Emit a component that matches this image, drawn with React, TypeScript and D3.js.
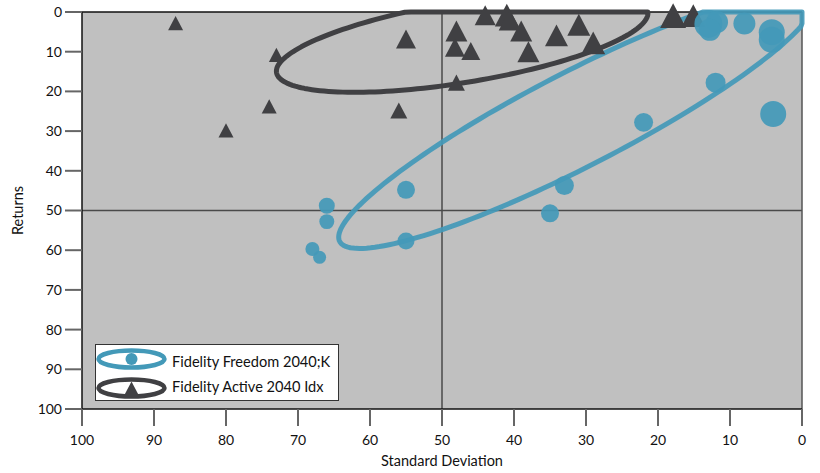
import React from "react";
import * as d3 from "d3";

// Fidelity Freedom 2040;K (circles)
const freedomSD = [66, 66, 68, 67, 55, 55, 33, 35, 22, 12, 4, 4.2, 4.2, 8, 13, 11.8, 12.8];
const freedomRet = [48.8, 52.8, 59.7, 61.8, 44.8, 57.7, 43.7, 50.7, 27.8, 17.8, 25.7, 5.1, 7.0, 2.9, 3, 2.5, 4.5];
const freedomSize = [64, 56, 49, 42, 81, 72, 90, 81, 90, 100, 169, 169, 169, 121, 196, 121, 121];

// Fidelity Active 2040 Idx (triangles)
const activeSD = [87, 80, 74, 73, 56, 55, 48, 48, 48.2, 46, 44, 41, 40.6, 39, 38, 34.1, 31, 29, 17.9, 15.1];
const activeRet = [2.8, 29.8, 23.8, 10.8, 24.8, 6.8, 17.8, 4.8, 8.9, 9.8, 0.8, 0.8, 2, 4.8, 10, 5.9, 3.2, 7.8, 0.9, 0.9];
const activeSize = [225, 225, 225, 225, 289, 400, 289, 484, 400, 361, 441, 576, 484, 484, 484, 529, 529, 576, 676, 576];

// Ellipses: center, first and second conjugate semi-axis vectors (data units)
const freedomEllipseCenter = [31.25, 27.0];
const freedomEllipseU = [-33.1, -29.7];
const freedomEllipseV = [0, 13.35];
const activeEllipseCenter = [47.2, 7.6];
const activeEllipseU = [-25.8, -7.3];
const activeEllipseV = [0, 10.3];

const xTicks = [100, 90, 80, 70, 60, 50, 40, 30, 20, 10, 0];
const yTicks = [0, 10, 20, 30, 40, 50, 60, 70, 80, 90, 100];
const refSD = 50;
const refRet = 50;

const seriesNames = ["Fidelity Freedom 2040;K", "Fidelity Active 2040 Idx"];
const xTitle = "Standard Deviation";
const yTitle = "Returns";

const TEAL = "#4399b8";
const DARK = "#404043";
const FONT = "Lato, 'Open Sans', sans-serif";

export default function App() {
  const W = 820, H = 473;
  const x = d3.scaleLinear().domain([100, 0]).range([82, 802]);
  const y = d3.scaleLinear().domain([0, 100]).range([12, 409]);
  const rCircle = d3.scaleSqrt().domain([0, 196]).range([0, 14]);
  const wTri = d3.scaleSqrt().domain([0, 576]).range([0, 24]);

  const ellipsePath = (c: number[], u: number[], v: number[]) => {
    const pts: [number, number][] = d3.range(0, 361, 2).map((deg) => {
      const t = (deg * Math.PI) / 180;
      const sd = Math.max(0, Math.min(100, c[0] + u[0] * Math.cos(t) + v[0] * Math.sin(t)));
      const rt = Math.max(0, Math.min(100, c[1] + u[1] * Math.cos(t) + v[1] * Math.sin(t)));
      return [x(sd), y(rt)];
    });
    return d3.line().curve(d3.curveLinearClosed)(pts) || "";
  };

  const tri = (cx: number, cy: number, w: number) => {
    const h = w * 0.95;
    return `M${cx},${cy - h / 2}L${cx + w / 2},${cy + h / 2}L${cx - w / 2},${cy + h / 2}Z`;
  };

  const [x0, x1] = x.range();
  const [y0, y1] = y.range();

  return (
    <svg width={W} height={H} style={{ position: "absolute", left: 0, top: 0 }} fontFamily={FONT}>
      <rect x={0} y={0} width={W} height={H} fill="#fff" />
      <rect x={x0} y={y0} width={x1 - x0} height={y1 - y0} fill="#c0c0c0" />
      {/* reference lines */}
      <line x1={x(refSD)} x2={x(refSD)} y1={y0} y2={y1} stroke="#4a4a4a" strokeWidth={1.5} />
      <line x1={x0} x2={x1} y1={y(refRet)} y2={y(refRet)} stroke="#4a4a4a" strokeWidth={1.5} />
      {/* frame */}
      <line x1={x0} x2={x1} y1={y0} y2={y0} stroke="#111" strokeWidth={1.5} />
      <line x1={x1} x2={x1} y1={y0} y2={y1} stroke="#555" strokeWidth={1.5} />
      {/* ellipses */}
      <path d={ellipsePath(activeEllipseCenter, activeEllipseU, activeEllipseV)} fill="none" stroke={DARK} strokeWidth={5} strokeLinejoin="round" />
      <path d={ellipsePath(freedomEllipseCenter, freedomEllipseU, freedomEllipseV)} fill="none" stroke={TEAL} strokeWidth={5} strokeLinejoin="round" opacity={0.92} />
      {/* triangles */}
      {activeSD.map((sd, i) => (
        <path key={"t" + i} d={tri(x(sd), y(activeRet[i]), wTri(activeSize[i]))} fill={DARK} />
      ))}
      {/* circles */}
      {freedomSD.map((sd, i) => (
        <circle key={"c" + i} cx={x(sd)} cy={y(freedomRet[i])} r={rCircle(freedomSize[i])} fill={TEAL} opacity={0.92} />
      ))}
      {/* axes */}
      <line x1={x0} x2={x0} y1={y0} y2={y1} stroke="#111" strokeWidth={1.5} />
      <line x1={x0} x2={x1} y1={y1} y2={y1} stroke="#111" strokeWidth={1.5} />
      {yTicks.map((t) => (
        <g key={"y" + t}>
          <line x1={x0 - 17} x2={x0} y1={y(t)} y2={y(t)} stroke="#666" strokeWidth={2} />
          <text x={x0 - 20} y={y(t)} dy="0.35em" textAnchor="end" fontSize={14} fill="#111">{t}</text>
        </g>
      ))}
      {xTicks.map((t) => (
        <g key={"x" + t}>
          <line x1={x(t)} x2={x(t)} y1={y1} y2={y1 + 17} stroke="#666" strokeWidth={2} />
          <text x={x(t)} y={440} dy="0.35em" textAnchor="middle" fontSize={14} fill="#111">{t}</text>
        </g>
      ))}
      <text x={(x0 + x1) / 2} y={461} dy="0.35em" textAnchor="middle" fontSize={14.5} fill="#111">{xTitle}</text>
      <text transform={`translate(18,${(y0 + y1) / 2}) rotate(-90)`} dy="0.35em" textAnchor="middle" fontSize={14.5} fill="#111">{yTitle}</text>
      {/* legend */}
      <rect x={95.5} y={344.5} width={243} height={56} fill="#fff" stroke="#333" strokeWidth={1} />
      <ellipse cx={131.5} cy={359} rx={33} ry={8.5} fill="none" stroke={TEAL} strokeWidth={4.5} />
      <circle cx={131.5} cy={359} r={6} fill={TEAL} />
      <ellipse cx={131.5} cy={388} rx={33} ry={8.5} fill="none" stroke={DARK} strokeWidth={4.5} />
      <path d={tri(131.5, 388.5, 15)} fill={DARK} />
      <text x={172} y={362} dy="0.35em" fontSize={14.6} fill="#111">{seriesNames[0]}</text>
      <text x={172} y={387} dy="0.35em" fontSize={14.6} fill="#111">{seriesNames[1]}</text>
    </svg>
  );
}
